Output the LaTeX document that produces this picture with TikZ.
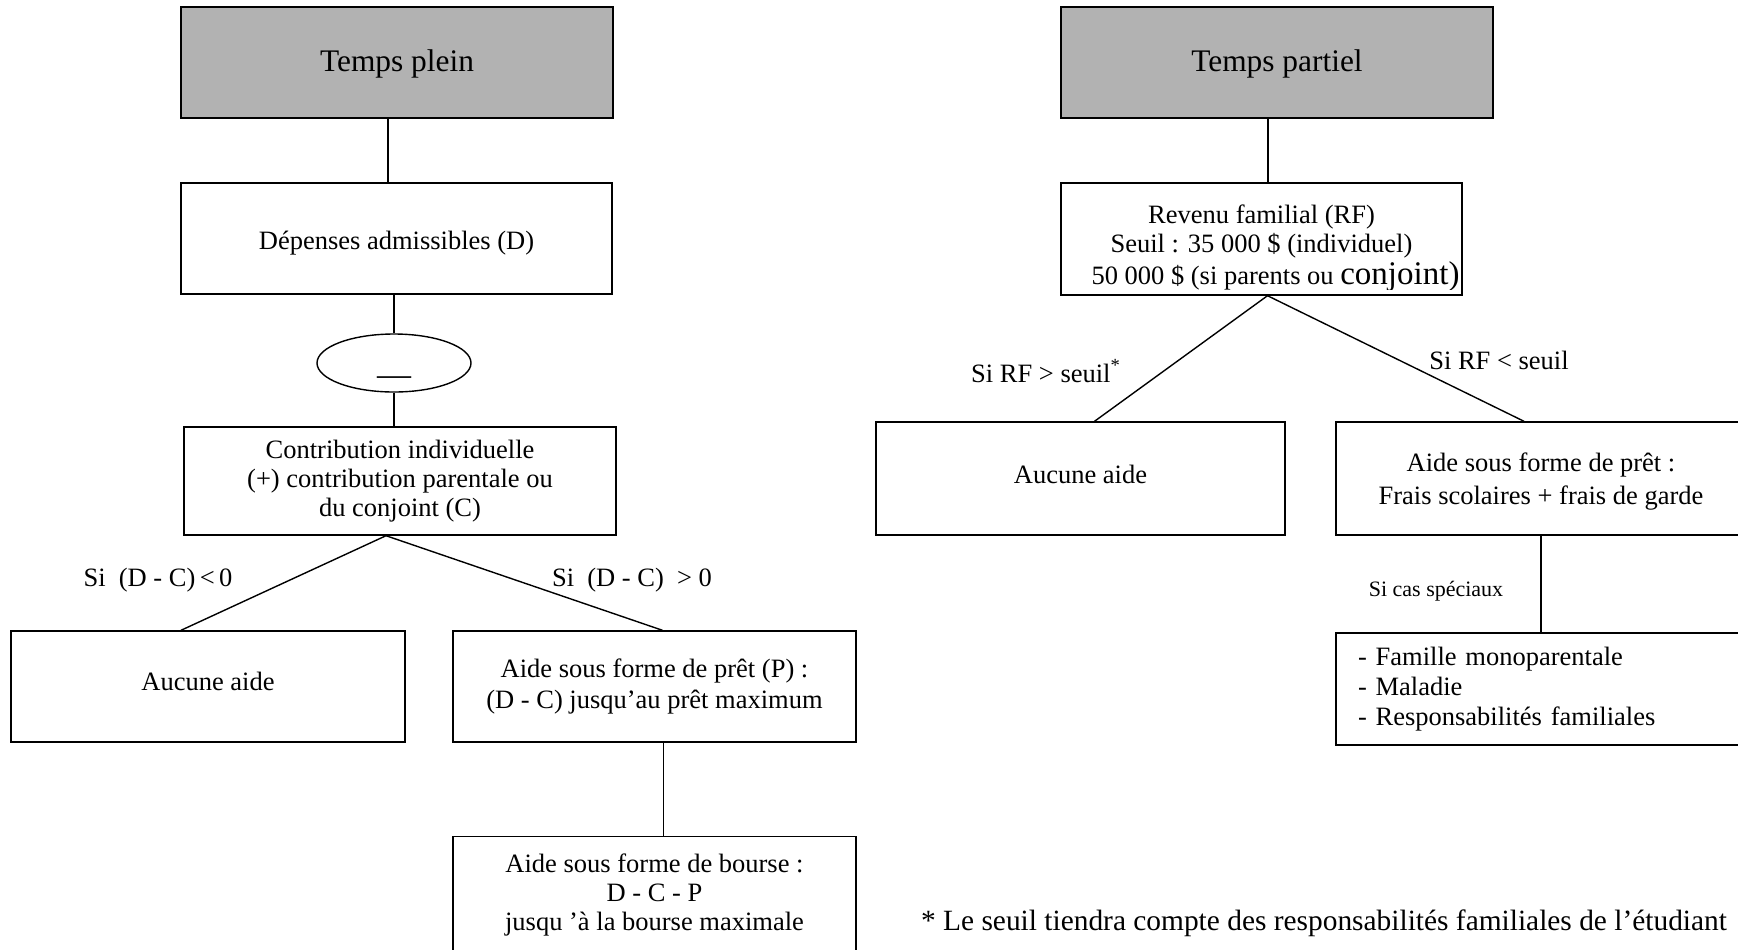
\documentclass[tikz,border=0pt]{standalone}
\usepackage{fontspec}
\setmainfont{Liberation Serif}
\usepackage{xcolor}
\usetikzlibrary{shapes.geometric}
\definecolor{headgray}{RGB}{178,178,178}

\begin{document}
\begin{tikzpicture}[
        x=0.5pt, y=-0.5pt,
        line width=0.7pt,
        every node/.append style={font=\fontsize{13.25}{14.5}\selectfont},
        hdr/.style={draw, fill=headgray, minimum width=216pt, minimum height=55.5pt,
            font=\fontsize{15.7}{18}\selectfont},
        bx/.style={draw, align=center, minimum height=55.5pt, inner sep=2pt},
        lbl/.style={inner sep=0pt}
    ]
    \clip (0,0) rectangle (1738,949);

    \node[hdr] (tplein) at (397,62.5) {\raisebox{-0.8pt}[\height][\depth]{Temps plein}};
    \node[bx, minimum width=215.5pt] (depenses) at (396.5,238.5)
        {\raisebox{-2.2pt}[\height][\depth]{Dépenses admissibles (D)}};
    \node[draw, ellipse, minimum width=77pt, minimum height=29pt, inner sep=0pt] (moins) at (394,363)
        {\raisebox{-11pt}[0pt][0pt]{\fontsize{17}{17}\selectfont —}};
    \node[bx, minimum width=216pt, minimum height=54pt] (contrib) at (400,481)
        {Contribution individuelle\\(+) contribution parentale ou\\du conjoint (C)};
    \node[bx, minimum width=197pt] (aucuneA) at (208,686.5)
        {\raisebox{2.5pt}[\height][\depth]{Aucune aide}};
    \node[bx, minimum width=201.5pt] (pretA) at (654.5,686.5)
        {Aide sous forme de prêt (P) :\\[1pt](D - C) jusqu’au prêt maximum};
    \node[bx, minimum width=201.5pt, minimum height=58pt] (bourse) at (654.5,894.5)
        {Aide sous forme de bourse :\\D - C - P\\jusqu ’à la bourse maximale};

    \node[hdr] (tpartiel) at (1277,62.5) {\raisebox{-0.8pt}[\height][\depth]{Temps partiel}};
    \node[bx, minimum width=200.5pt, minimum height=56pt] (revenu) at (1261.5,239) {};
    \begin{scope}
        \clip (revenu.north west) rectangle ([yshift=3pt]revenu.south east);
        \node[align=center, inner sep=0pt] (revenutxt) at (1261.5,248)
            {Revenu familial (RF)\\Seuil : 35 000 \$ (individuel)\\[1.5pt]\hspace*{14pt}50 000 \$ (si parents ou {\fontsize{16.5}{14.5}\selectfont conjoint)}};
    \end{scope}
    \node[bx, minimum width=204.5pt, minimum height=56.5pt] (aucuneB) at (1080.5,478.5)
        {\raisebox{2pt}[\height][\depth]{Aucune aide}};
    \node[bx, minimum width=205pt, minimum height=56.5pt] (pretB) at (1541,478.5)
        {\raisebox{-1.5pt}[\height][\depth]{Aide sous forme de prêt :}\\[2pt]\raisebox{-1.5pt}[\height][\depth]{Frais scolaires + frais de garde}};
    \node[draw, text width=183pt, align=left, inner xsep=11pt, inner ysep=2pt, minimum height=56pt] (cas) at (1541,689)
        {- Famille monoparentale\\[0.5pt]- Maladie\\[0.5pt]- Responsabilités familiales};

    \draw ([xshift=-4.5pt]tplein.south) -- ([xshift=-4.5pt]tplein.south |- depenses.north);
    \draw (moins.north |- depenses.south) -- (moins.north);
    \draw (moins.south) -- (moins.south |- contrib.north);
    \draw ([xshift=-7pt]contrib.south) -- ([xshift=-13.5pt]aucuneA.north);
    \draw ([xshift=-7pt]contrib.south) -- ([xshift=4pt]pretA.north);
    \draw ([xshift=4.5pt]pretA.south) -- ([xshift=4.5pt]bourse.north);
    \draw ([xshift=-4.5pt]tpartiel.south) -- ([xshift=-4.5pt]tpartiel.south |- revenu.north);
    \draw ([xshift=3pt]revenu.south) -- ([xshift=7pt]aucuneB.north);
    \draw ([xshift=3pt]revenu.south) -- ([xshift=-8.5pt]pretB.north);
    \draw (pretB.south) -- (cas.north);

    \node[lbl] (condA) at (158,580) {Si\ \ (D - C)\,<\,0};
    \node[lbl] (condB) at (632,580) {Si\ \ (D - C)\ \ > 0};
    \node[lbl] (condC) at (1046,371) {Si RF > seuil\textsuperscript{*}};
    \node[lbl] (condD) at (1499,360) {Si RF < seuil};
    \node[lbl, font=\fontsize{11}{13}\selectfont] (condE) at (1436,591) {Si cas spéciaux};
    \node[lbl, font=\fontsize{14.7}{16}\selectfont] (note) at (1324,923)
        {* Le seuil tiendra compte des responsabilités familiales de l’étudiant};
\end{tikzpicture}
\end{document}
